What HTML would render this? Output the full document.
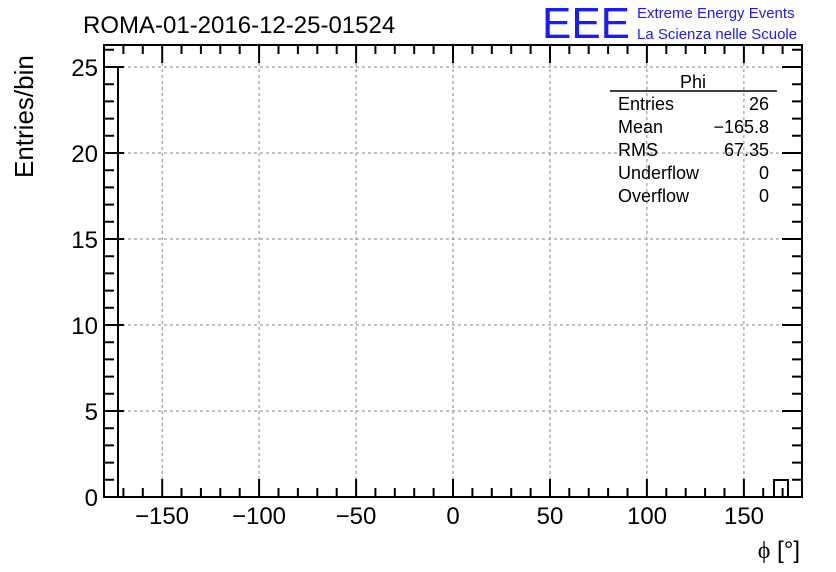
<!DOCTYPE html>
<html><head><style>body{margin:0;background:#fff}svg{display:block}text{font-family:"Liberation Sans",sans-serif}</style></head><body>
<svg width="836" height="572" xmlns="http://www.w3.org/2000/svg">
<g stroke="#888" stroke-dasharray="3,3" stroke-width="1">
<line x1="162.2" y1="45" x2="162.2" y2="497"/><line x1="259.1" y1="45" x2="259.1" y2="497"/><line x1="356.1" y1="45" x2="356.1" y2="497"/><line x1="453" y1="45" x2="453" y2="497"/><line x1="550" y1="45" x2="550" y2="497"/><line x1="646.9" y1="45" x2="646.9" y2="497"/><line x1="743.9" y1="45" x2="743.9" y2="497"/>
<line x1="104" y1="411" x2="802" y2="411"/><line x1="104" y1="325" x2="802" y2="325"/><line x1="104" y1="239" x2="802" y2="239"/><line x1="104" y1="153" x2="802" y2="153"/><line x1="104" y1="67" x2="802" y2="67"/>
</g>
<path d="M104 497 V67 H118 V497 M774 497 V480 H788 V497" fill="none" stroke="#000" stroke-width="2"/>
<rect x="104" y="45" width="698" height="452" fill="none" stroke="#000" stroke-width="2"/>
<g stroke="#000" stroke-width="2" fill="none">
<path d="M123.4 497v-9M142.8 497v-9M162.2 497v-18M181.5 497v-9M200.9 497v-9M220.3 497v-9M239.7 497v-9M259.1 497v-18M278.5 497v-9M297.9 497v-9M317.3 497v-9M336.7 497v-9M356.1 497v-18M375.4 497v-9M394.8 497v-9M414.2 497v-9M433.6 497v-9M453 497v-18M472.4 497v-9M491.8 497v-9M511.2 497v-9M530.6 497v-9M550 497v-18M569.3 497v-9M588.7 497v-9M608.1 497v-9M627.5 497v-9M646.9 497v-18M666.3 497v-9M685.7 497v-9M705.1 497v-9M724.5 497v-9M743.9 497v-18M763.2 497v-9M782.6 497v-9"/>
<path d="M123.4 45v9M142.8 45v9M162.2 45v18M181.5 45v9M200.9 45v9M220.3 45v9M239.7 45v9M259.1 45v18M278.5 45v9M297.9 45v9M317.3 45v9M336.7 45v9M356.1 45v18M375.4 45v9M394.8 45v9M414.2 45v9M433.6 45v9M453 45v18M472.4 45v9M491.8 45v9M511.2 45v9M530.6 45v9M550 45v18M569.3 45v9M588.7 45v9M608.1 45v9M627.5 45v9M646.9 45v18M666.3 45v9M685.7 45v9M705.1 45v9M724.5 45v9M743.9 45v18M763.2 45v9M782.6 45v9"/>
<path d="M104 479.8h10M104 462.6h10M104 445.4h10M104 428.2h10M104 411h20M104 393.8h10M104 376.6h10M104 359.4h10M104 342.2h10M104 325h20M104 307.8h10M104 290.6h10M104 273.4h10M104 256.2h10M104 239h20M104 221.8h10M104 204.6h10M104 187.4h10M104 170.2h10M104 153h20M104 135.8h10M104 118.6h10M104 101.4h10M104 84.2h10M104 67h20M104 49.8h10"/>
<path d="M802 479.8h-10M802 462.6h-10M802 445.4h-10M802 428.2h-10M802 411h-20M802 393.8h-10M802 376.6h-10M802 359.4h-10M802 342.2h-10M802 325h-20M802 307.8h-10M802 290.6h-10M802 273.4h-10M802 256.2h-10M802 239h-20M802 221.8h-10M802 204.6h-10M802 187.4h-10M802 170.2h-10M802 153h-20M802 135.8h-10M802 118.6h-10M802 101.4h-10M802 84.2h-10M802 67h-20M802 49.8h-10"/>
</g>
<line x1="610" y1="91" x2="777" y2="91" stroke="#000" stroke-width="1.5"/>
<g font-size="18">
<text x="693" y="88" text-anchor="middle">Phi</text>
<text x="618" y="110">Entries</text><text x="769" y="110" text-anchor="end">26</text>
<text x="618" y="133">Mean</text><text x="769" y="133" text-anchor="end">−165.8</text>
<text x="618" y="156">RMS</text><text x="769" y="156" text-anchor="end">67.35</text>
<text x="618" y="179">Underflow</text><text x="769" y="179" text-anchor="end">0</text>
<text x="618" y="202">Overflow</text><text x="769" y="202" text-anchor="end">0</text>
</g>
<text x="83" y="33" font-size="24">ROMA-01-2016-12-25-01524</text>
<text x="542" y="38" font-size="44" fill="#1a1aff" textLength="88" lengthAdjust="spacingAndGlyphs">EEE</text>
<text x="637" y="18" font-size="15" fill="#1a1aff">Extreme Energy Events</text>
<text x="637" y="39" font-size="15" fill="#1a1aff">La Scienza nelle Scuole</text>
<g font-size="24" text-anchor="end">
<text x="98" y="506">0</text><text x="98" y="420">5</text><text x="98" y="334">10</text><text x="98" y="248">15</text><text x="98" y="162">20</text><text x="98" y="76">25</text>
</g>
<g font-size="24" text-anchor="middle">
<text x="162" y="524">−150</text><text x="259" y="524">−100</text><text x="356" y="524">−50</text><text x="453" y="524">0</text><text x="550" y="524">50</text><text x="647" y="524">100</text><text x="744" y="524">150</text>
</g>
<text x="800" y="558" font-size="24" text-anchor="end"><tspan font-family="Liberation Serif">ϕ</tspan> [°]</text>
<text transform="translate(33,178) rotate(-90)" font-size="26">Entries/bin</text>
</svg>
</body></html>
